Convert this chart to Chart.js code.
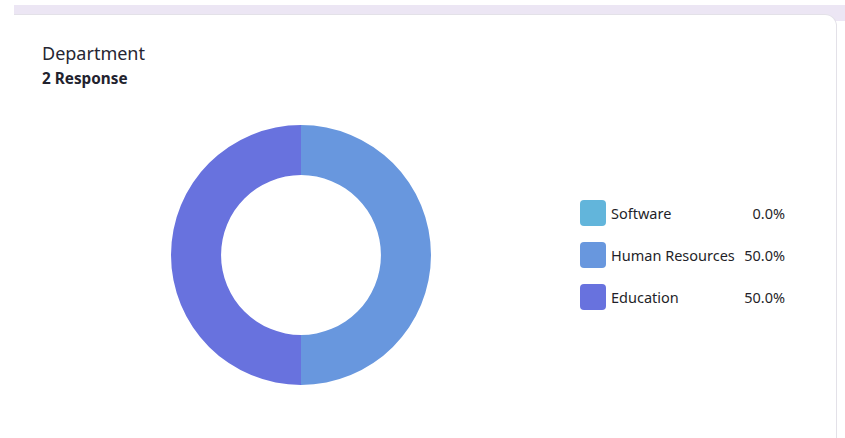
<!DOCTYPE html>
<html>
<head>
<meta charset="utf-8">
<script src="https://cdn.jsdelivr.net/npm/chart.js@4.4.0/dist/chart.umd.min.js"></script>
<style>
  html, body { margin: 0; padding: 0; background: #fff; width: 845px; height: 438px; overflow: hidden; font-family: "Noto Sans", "Open Sans", sans-serif; }
  .top-band { position: absolute; left: 14px; top: 5px; width: 831px; height: 16px; background: #ece6f4; }
  .card { position: absolute; left: 14px; top: 14px; width: 823px; height: 440px; background: #fff; border: 1px solid #e3e1e8; border-radius: 0 12px 0 0; box-sizing: border-box; border-left: none; }
  .title { position: absolute; left: 42px; top: 41px; font-size: 18px; color: #262633; }
  .subtitle { position: absolute; left: 42px; top: 68px; font-size: 15.3px; font-weight: 700; color: #22222e; }
  .chart-box { position: absolute; left: 171px; top: 125px; width: 260px; height: 260px; }
  .legend { position: absolute; left: 580px; top: 200px; width: 205px; }
  .legend-row { position: relative; height: 26px; margin-bottom: 16px; font-size: 14.5px; color: #1f1f29; }
  .legend-row .swatch { position: absolute; left: 0; top: 0; width: 26px; height: 26px; border-radius: 4px; }
  .legend-row .label { position: absolute; left: 31px; top: 3px; }
  .legend-row .pct { position: absolute; right: 0; top: 3px; }
</style>
</head>
<body>
<div class="top-band"></div>
<div class="card"></div>
<div class="title">Department</div>
<div class="subtitle">2 Response</div>
<div class="chart-box"><canvas id="deptChart" width="260" height="260"></canvas></div>
<div class="legend" id="deptLegend"></div>
<script>
const departments = ['Software', 'Human Resources', 'Education'];
const responses = [0, 1, 1];
const sliceColors = ['#62b5db', '#6897de', '#6872de'];

document.addEventListener('DOMContentLoaded', function () {
  const total = responses.reduce((a, b) => a + b, 0);

  // Legend rows with share of responses
  const legend = document.getElementById('deptLegend');
  departments.forEach((name, i) => {
    const pct = total ? (responses[i] / total * 100).toFixed(1) : '0.0';
    const row = document.createElement('div');
    row.className = 'legend-row';
    row.innerHTML = '<span class="swatch" style="background:' + sliceColors[i] + '"></span>' +
      '<span class="label">' + name + '</span>' +
      '<span class="pct">' + pct + '%</span>';
    legend.appendChild(row);
  });

  const ctx = document.getElementById('deptChart').getContext('2d');
  new Chart(ctx, {
    type: 'doughnut',
    data: {
      labels: departments,
      datasets: [{
        data: responses,
        backgroundColor: sliceColors,
        borderWidth: 0,
        cutout: '61.5%'
      }]
    },
    options: {
      responsive: false,
      animation: false,
      plugins: {
        legend: { display: false },
        tooltip: { enabled: false }
      }
    }
  });
});
</script>
</body>
</html>
